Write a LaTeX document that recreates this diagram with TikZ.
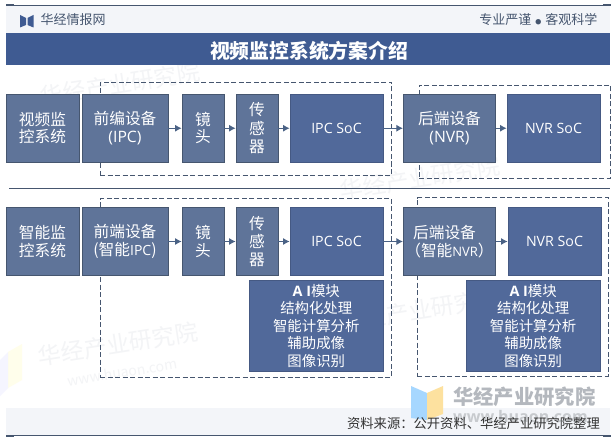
\documentclass[tikz,border=0pt]{standalone}
\usepackage{fontspec}
\setmainfont{Noto Sans CJK SC}
\newfontfamily\latinfont{Open Sans}
\usetikzlibrary{arrows.meta}
\definecolor{bandblue}{HTML}{3F5B92}
\definecolor{softblue}{HTML}{5F7499}
\definecolor{socblue}{HTML}{51699A}
\definecolor{edgeblue}{HTML}{46566F}
\definecolor{linkblue}{HTML}{4A6285}
\definecolor{paleband}{HTML}{F3F5F9}
\definecolor{markgray}{HTML}{B4B8BE}
\definecolor{faintgray}{HTML}{F3F4F6}
\tikzset{
  unitbox/.style={draw=edgeblue,line width=0.8pt,fill=softblue,text=white,inner sep=0pt,align=center,font=\fontsize{15.7}{17.3}\selectfont},
  socbox/.style={unitbox,fill=socblue,draw=socblue!85!black},
  aibox/.style={socbox,font=\fontsize{14.4}{17.5}\selectfont},
  dashframe/.style={draw=edgeblue,dashed,dash pattern=on 5pt off 2.5pt,line width=0.7pt,inner sep=0pt},
  link/.style={draw=linkblue,line width=1pt,-{Latex[length=6.5pt,width=7pt]}},
  rulerline/.style={draw=edgeblue,line width=1pt},
  faintmark/.style={inner sep=0pt,text=faintgray}
}
\newcommand{\placebox}[6]{\node[#1,minimum width=#4-#3,minimum height=#6-#5] (#2) at ({(#3+#4)/2},{(#5+#6)/2}) {\placetext};}
\newcommand{\soctext}[1]{{\latinfont\fontsize{14.2}{16}\selectfont #1}}
\begin{document}
\begin{tikzpicture}[x=1pt,y=-1pt]
\useasboundingbox (0,0) rectangle (616,441);
\fill[white] (0,0) rectangle (616,441);
% faint watermarks
\node[faintmark,font=\fontsize{23}{23}\selectfont,rotate=9] (wa) at (118,344) {华经产业研究院};
\node[faintmark,font=\fontsize{14}{14}\selectfont,rotate=9] (wb) at (122,372) {www.huaon.com};
\node[faintmark,font=\fontsize{23}{23}\selectfont,rotate=9] (wc) at (120,84) {华经产业研究院};
\node[faintmark,font=\fontsize{23}{23}\selectfont,rotate=9] (wd) at (420,178) {华经产业研究院};
\node[faintmark,font=\fontsize{23}{23}\selectfont,rotate=9] (we) at (420,310) {华经产业研究院};
\fill[yellow!8] (8,352) -- (22,344) -- (22,380) -- (8,388) -- cycle;
\fill[blue!4] (0,360) -- (8,352) -- (8,388) -- (0,396) -- cycle;
% header
\fill[paleband] (6,5) rectangle (610,33);
\fill[paleband] (6,408) rectangle (610,435);
\fill[bandblue] (6,33) rectangle (610,65);
\draw[rulerline] (6,5.3) -- (610,5.3);
\draw[rulerline] (6,435.5) -- (610,435.5);
\fill[edgeblue] (6,4.5) rectangle (14,6.5);
\fill[edgeblue] (603,4.5) rectangle (611,6.5);
\fill[edgeblue] (6,435) rectangle (14,437);
\fill[edgeblue] (603,435) rectangle (611,437);
\fill[bandblue] (20,15) -- (26,18) -- (26,25) -- (20,27.5) -- cycle;
\fill[bandblue] (33.5,15) -- (27.5,18) -- (27.5,25) -- (33.5,27.5) -- cycle;
\node[anchor=west,inner sep=0pt,text=edgeblue,font=\fontsize{13}{13}\selectfont] (brand) at (40.5,20) {华经情报网};
\node[anchor=east,inner sep=0pt,text=edgeblue,font=\fontsize{13}{13}\selectfont] (motto) at (597.5,20) {专业严谨\kern4pt{\fontsize{6}{6}\selectfont●}\kern4pt客观科学};
\node[inner sep=0pt,text=white,font=\bfseries\fontsize{19.8}{20}\selectfont] (title) at (309,50.5) {视频监控系统方案介绍};
% big watermark
\fill[blue!45!cyan!35] (411,386) -- (427,393) -- (427,420) -- (411,418) -- cycle;
\fill[yellow!40!orange!35] (443,386) -- (427,393) -- (427,420) -- (443,414) -- cycle;
\node[anchor=west,inner sep=0pt,text=markgray,font=\bfseries\fontsize{20.3}{20}\selectfont] (markname) at (453,397) {华经产业研究院};
\node[anchor=west,inner sep=0pt,text=markgray!75,font=\bfseries\latinfont\fontsize{16}{16}\selectfont] (markurl) at (453,417) {www.huaon.com};
\node[anchor=east,inner sep=0pt,text=black!80,font=\fontsize{13.3}{14}\selectfont] (source) at (600,423) {资料来源：公开资料、华经产业研究院整理};
% separator
\draw[edgeblue,line width=0.8pt] (9,188) -- (610,188);
% dashed frames
\node[dashframe,minimum width=291.5pt,minimum height=93pt] (frameA) at (245.75,128.5) {};
\node[dashframe,minimum width=191pt,minimum height=93pt] (frameB) at (514.5,131.5) {};
\node[dashframe,minimum width=291.5pt,minimum height=178.5pt] (frameC) at (245.75,287.75) {};
\node[dashframe,minimum width=190.7pt,minimum height=178.5pt] (frameD) at (512.7,286.75) {};
% row one
\def\placetext{视频监\\控系统}\placebox{unitbox}{sysA}{6}{79}{94}{162.5}
\def\placetext{前编设备\\{\latinfont (IPC)}}\placebox{unitbox}{ipcA}{82}{168}{94}{162.5}
\def\placetext{镜\\头}\placebox{unitbox}{lensA}{182}{224}{94}{162.5}
\def\placetext{传\\[1pt]感\\[1pt]器}\placebox{unitbox}{senseA}{236}{278}{94}{162.5}
\def\placetext{\soctext{IPC SoC}}\placebox{socbox}{socA}{290}{383}{94}{162.5}
\def\placetext{后端设备\\{\latinfont (NVR)}}\placebox{unitbox}{nvrA}{403.3}{495.7}{94}{162.5}
\def\placetext{\soctext{NVR SoC}}\placebox{socbox}{nsocA}{507}{600}{94}{162.5}
% row two
\def\placetext{智能监\\控系统}\placebox{unitbox}{sysB}{6}{79}{207.3}{275.7}
\def\placetext{前端设备\\(智能{\latinfont\fontsize{14}{15}\selectfont IPC})}\placebox{unitbox}{ipcB}{82}{168}{207.3}{275.7}
\def\placetext{镜\\头}\placebox{unitbox}{lensB}{182}{224}{207.3}{275.7}
\def\placetext{传\\[1pt]感\\[1pt]器}\placebox{unitbox}{senseB}{236}{278}{207.3}{275.7}
\def\placetext{\soctext{IPC SoC}}\placebox{socbox}{socB}{290}{383}{207.3}{275.7}
\def\placetext{后端设备\kern10pt\\（智能{\latinfont\fontsize{13}{15}\selectfont NVR}）}\placebox{unitbox}{nvrB}{403.3}{495.7}{207.3}{275.7}
\def\placetext{\soctext{NVR SoC}}\placebox{socbox}{nsocB}{508}{601}{207.3}{275.7}
\def\placetext{{\latinfont\bfseries A I}模块\\结构化处理\\智能计算分析\\辅助成像\\图像识别}
\placebox{aibox}{aiA}{249.5}{383}{280}{371.7}
\placebox{aibox}{aiB}{466.3}{600}{280}{371.7}
% links
\draw[link] (ipcA) -- (lensA);
\draw[link] (lensA) -- (senseA);
\draw[link] (senseA) -- (socA);
\draw[link] (socA) -- (nvrA);
\draw[link] (nvrA) -- (nsocA);
\draw[link] (ipcB) -- (lensB);
\draw[link] (lensB) -- (senseB);
\draw[link] (senseB) -- (socB);
\draw[link] (socB) -- (nvrB);
\draw[link] (nvrB) -- (nsocB);
\end{tikzpicture}
\end{document}
